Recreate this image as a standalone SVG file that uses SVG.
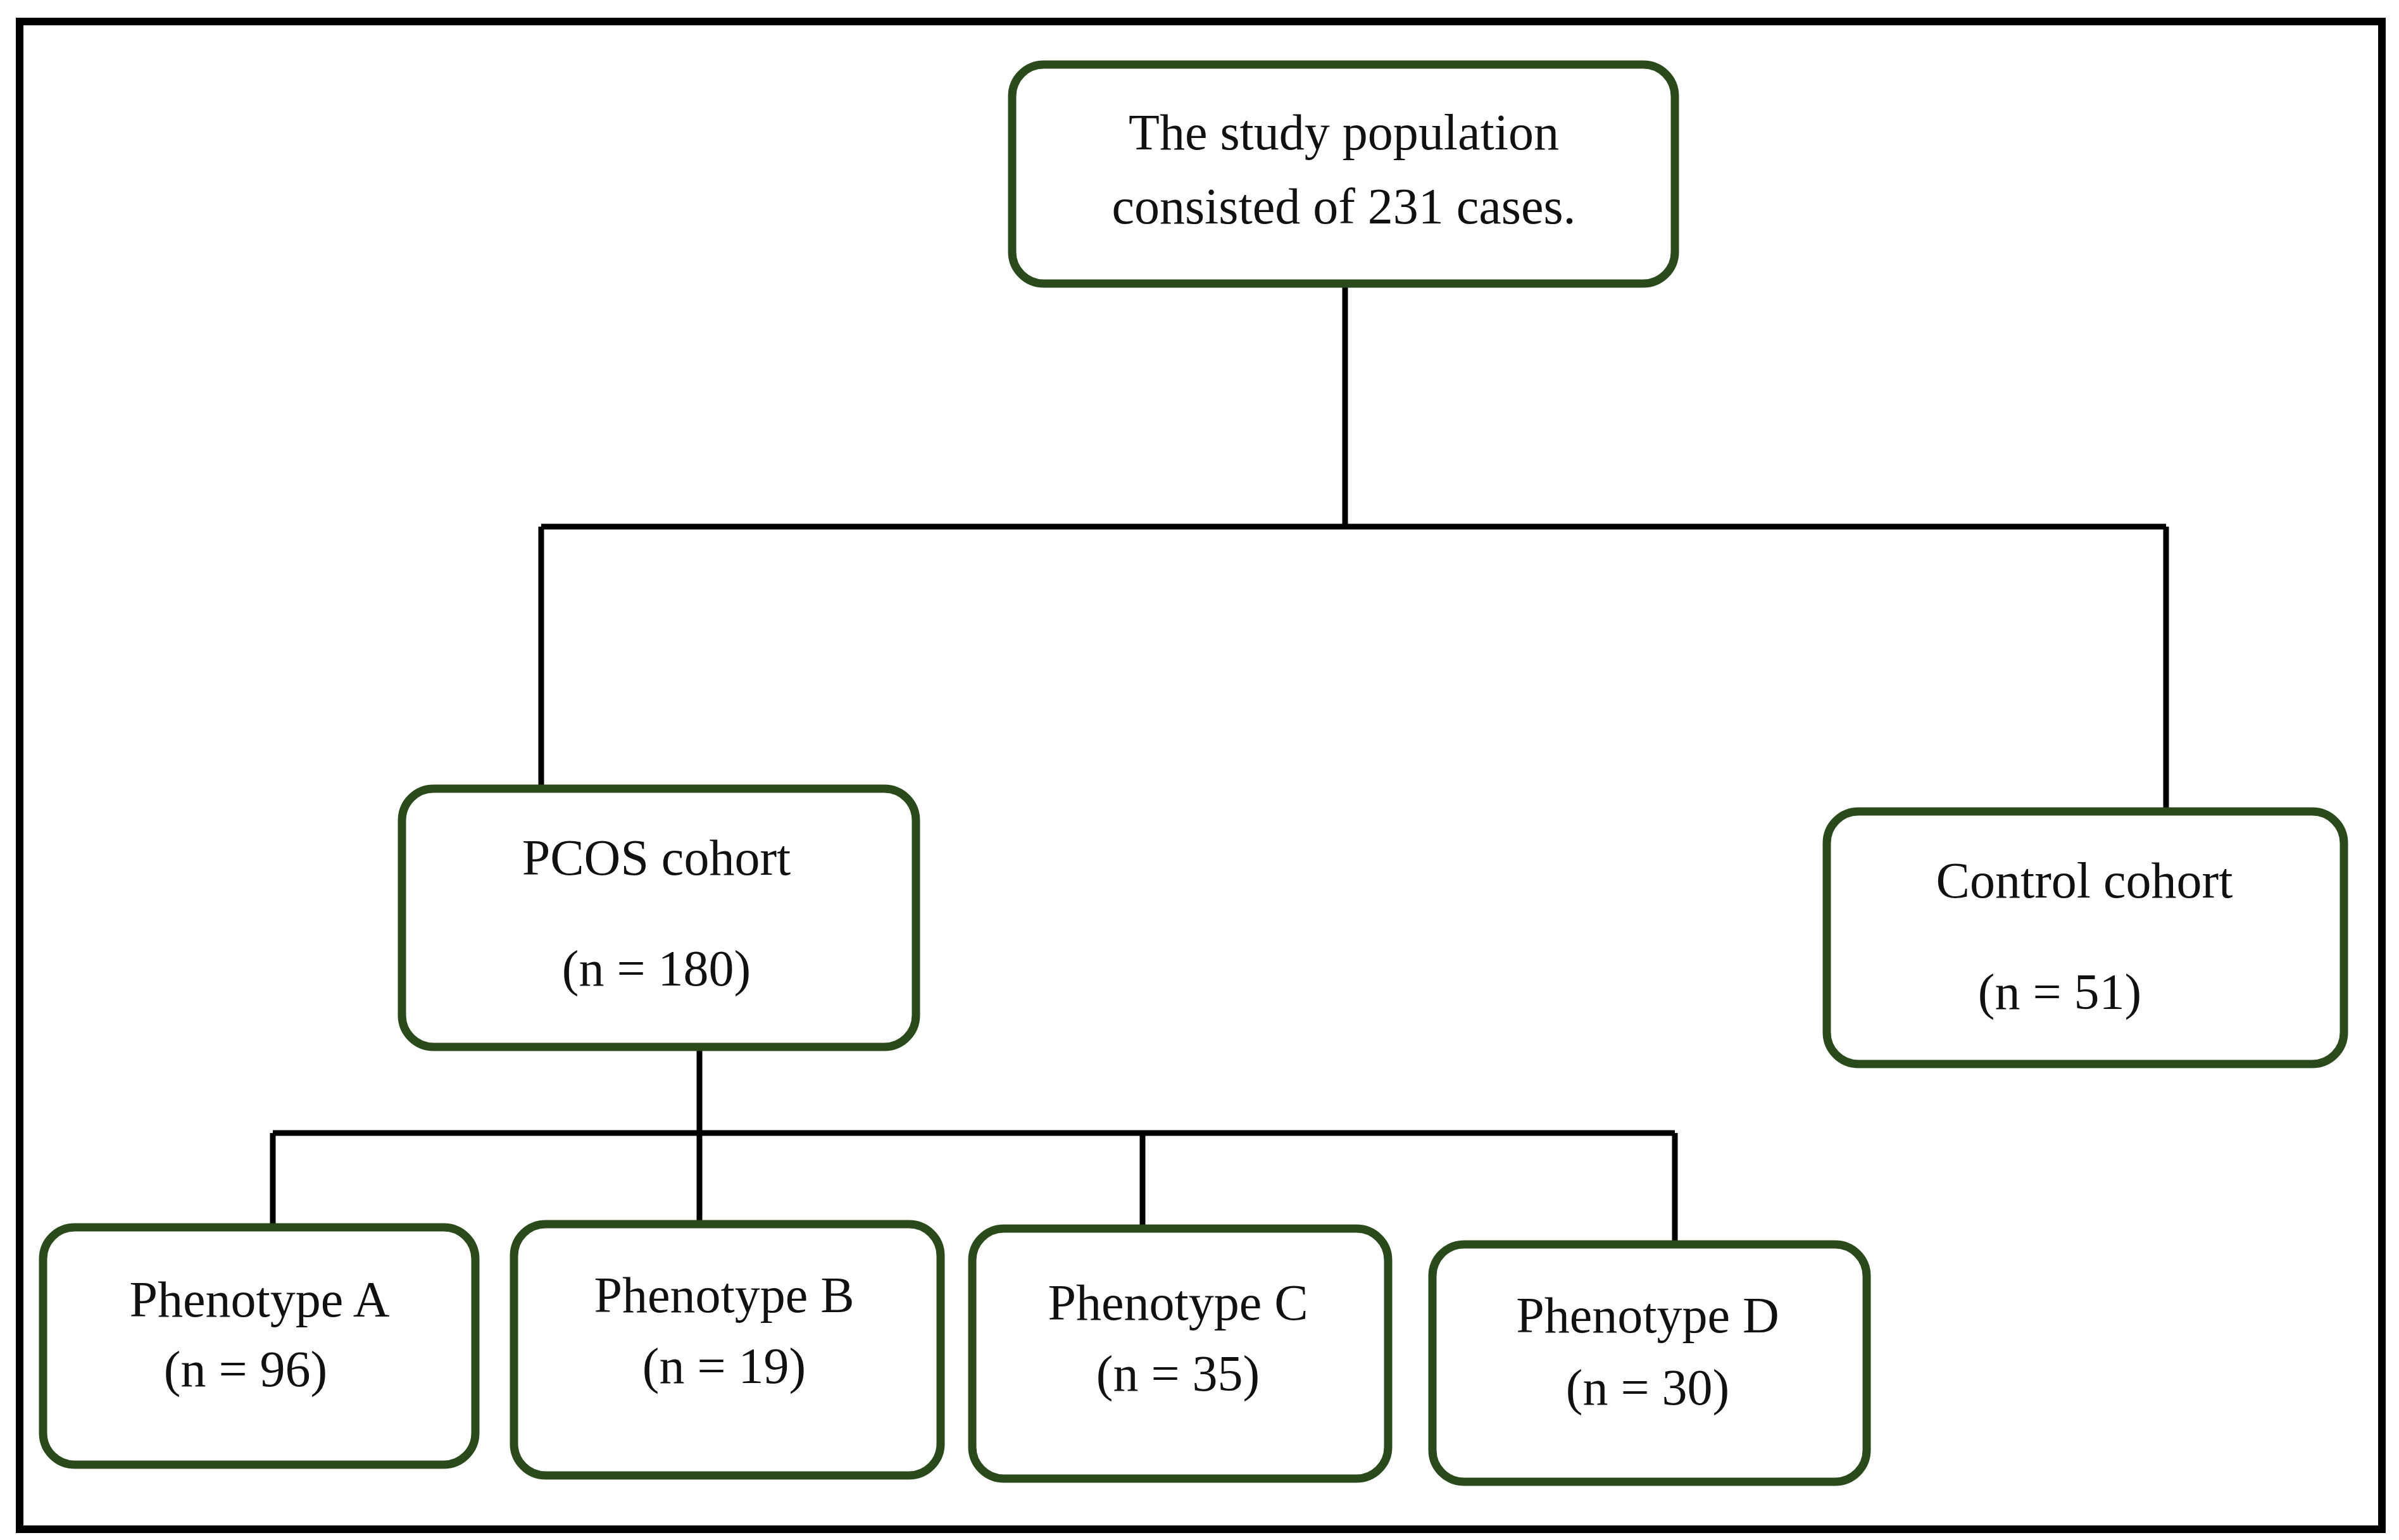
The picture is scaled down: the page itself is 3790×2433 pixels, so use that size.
<svg xmlns="http://www.w3.org/2000/svg" width="3790" height="2433" viewBox="0 0 3790 2433">
<style>
.box{fill:#fff;stroke:#2a4a1c;stroke-width:13}
.t{font-family:"Liberation Serif",serif;font-size:80px;fill:#111;text-anchor:middle}
.c{stroke:#000;stroke-width:9;fill:none}
</style>
<rect width="3790" height="2433" fill="#fff"/>
<rect x="31" y="34" width="3732" height="2382" fill="none" stroke="#000" stroke-width="12"/>
<g id="connectors">
<path class="c" d="M2125 448V832M855 832H3422M855 832V1246M3422 832V1282"/>
<path class="c" d="M1105 1654V1790M431 1790H2646M431 1790V1939M1105 1790V1934M1805 1790V1941M2646 1790V1966"/>
</g>
<g id="top"><rect class="box" x="1599" y="102" width="1047" height="346" rx="50"/>
<text class="t" x="2123" y="236">The study population</text><text class="t" x="2123" y="353">consisted of 231 cases.</text></g>
<g id="pcos"><rect class="box" x="635" y="1246" width="812" height="408" rx="50"/>
<text class="t" x="1037" y="1382">PCOS cohort</text><text class="t" x="1037" y="1557">(n = 180)</text></g>
<g id="control"><rect class="box" x="2886" y="1282" width="817" height="399" rx="50"/>
<text class="t" x="3293" y="1418">Control cohort</text><text class="t" x="3254" y="1594">(n = 51)</text></g>
<g id="phA"><rect class="box" x="68" y="1939" width="683" height="375" rx="50"/>
<text class="t" x="410" y="2080">Phenotype A</text><text class="t" x="388" y="2190">(n = 96)</text></g>
<g id="phB"><rect class="box" x="812" y="1934" width="674" height="397" rx="50"/>
<text class="t" x="1144" y="2073">Phenotype B</text><text class="t" x="1144" y="2185">(n = 19)</text></g>
<g id="phC"><rect class="box" x="1536" y="1941" width="657" height="395" rx="50"/>
<text class="t" x="1861" y="2085">Phenotype C</text><text class="t" x="1861" y="2197">(n = 35)</text></g>
<g id="phD"><rect class="box" x="2263" y="1966" width="686" height="375" rx="50"/>
<text class="t" x="2603" y="2105">Phenotype D</text><text class="t" x="2603" y="2219">(n = 30)</text></g>
</svg>
